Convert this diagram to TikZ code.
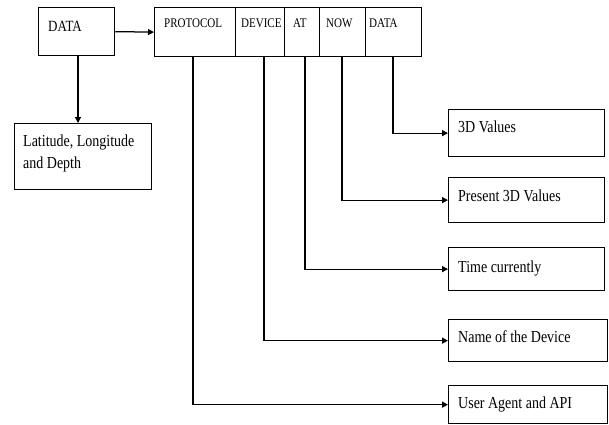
\documentclass[tikz,border=0pt]{standalone}
\usepackage{fontspec}
\setmainfont{Liberation Serif}
\usetikzlibrary{arrows.meta}
\newcommand{\tallt}[1]{\scalebox{1}[1.2]{#1}}
\begin{document}
\begin{tikzpicture}[x=1pt,y=-1pt,
  box/.style={draw,line width=1.25pt,rectangle,inner sep=0pt,anchor=north west},
  lbl/.style={anchor=base west,inner sep=0pt,font=\fontsize{14}{22}\selectfont},
  hdr/.style={anchor=base west,inner sep=0pt,font=\fontsize{11}{13}\selectfont},
  conn/.style={line width=1.25pt,-{Triangle[length=6pt,width=6pt]}}]
\useasboundingbox (0,0) rectangle (609,424);
% left column
\node[box,minimum width=76pt,minimum height=48pt] (dbox) at (38,7) {};
\node[lbl,font=\fontsize{13}{16}\selectfont] (dtxt) at (48,31) {\tallt{DATA}};
\node[box,minimum width=137pt,minimum height=66pt] (lat) at (14,123) {};
\node[lbl] (lattxt1) at (23,146) {\tallt{Latitude, Longitude}};
\node[lbl] (lattxt2) at (23,168) {\tallt{and Depth}};
% header cells
\node[box,minimum width=81pt,minimum height=49pt] (cprot) at (154,7) {};
\node[box,minimum width=49pt,minimum height=49pt] (cdev) at (235,7) {};
\node[box,minimum width=35pt,minimum height=49pt] (cat) at (284,7) {};
\node[box,minimum width=46pt,minimum height=49pt] (cnow) at (319,7) {};
\node[box,minimum width=56pt,minimum height=49pt] (cdata) at (365,7) {};
\node[hdr] (tprot) at (164,27) {\tallt{PROTOCOL}};
\node[hdr] (tdev) at (241,27) {\tallt{DEVICE}};
\node[hdr] (tat) at (293,27) {\tallt{AT}};
\node[hdr] (tnow) at (326,27) {\tallt{NOW}};
\node[hdr] (tdata) at (369,27) {\tallt{DATA}};
% right boxes
\node[box,minimum width=156pt,minimum height=47pt] (b3d) at (448,109) {};
\node[lbl] (t3d) at (458,132) {\tallt{3D Values}};
\node[box,minimum width=156pt,minimum height=45pt] (bpres) at (448,177) {};
\node[lbl] (tpres) at (458,201) {\tallt{Present 3D Values}};
\node[box,minimum width=156pt,minimum height=43pt] (btime) at (448,247) {};
\node[lbl] (ttime) at (458,272) {\tallt{Time currently}};
\node[box,minimum width=159pt,minimum height=42pt] (bname) at (448,319) {};
\node[lbl] (tname) at (458,342) {\tallt{Name of the Device}};
\node[box,minimum width=159pt,minimum height=38pt] (buser) at (448,385) {};
\node[lbl] (tuser) at (458,408) {\tallt{User Agent and API}};
% connector starts
\coordinate (sd) at (78,55);
\coordinate (sprot) at (193,56);
\coordinate (sdev) at (264,56);
\coordinate (sat) at (305,56);
\coordinate (snow) at (342,56);
\coordinate (sdata) at (393,56);
% connectors
\draw[conn] (dbox.east) -- (cprot.west);
\draw[conn] (sd) -- (sd |- lat.north);
\draw[conn] (sdata) |- (b3d.west);
\draw[conn] (snow) |- (bpres.west);
\draw[conn] (sat) |- (btime.west);
\draw[conn] (sdev) |- (bname.west);
\draw[conn] (sprot) |- (buser.west);
\end{tikzpicture}
\end{document}
